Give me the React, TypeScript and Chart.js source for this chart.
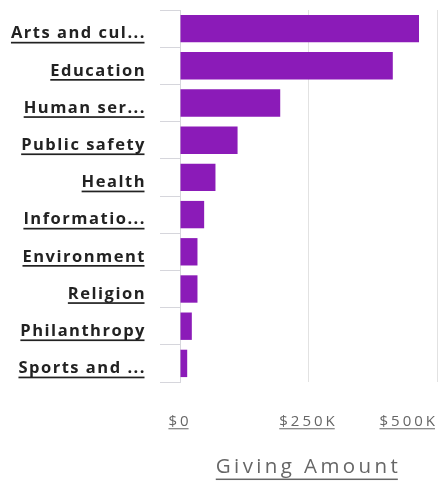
import { useEffect, useRef } from 'react';
import { Chart, BarController, BarElement, CategoryScale, LinearScale } from 'chart.js';

// ---- data ----
const categories = [
  'Arts and culture',
  'Education',
  'Human services',
  'Public safety',
  'Health',
  'Information and communications',
  'Environment',
  'Religion',
  'Philanthropy',
  'Sports and recreation',
];
const categoryLabels = [
  'Arts and cul...',
  'Education',
  'Human ser...',
  'Public safety',
  'Health',
  'Informatio...',
  'Environment',
  'Religion',
  'Philanthropy',
  'Sports and ...',
];
const givingAmounts = [465000, 414000, 195000, 112000, 69000, 47000, 34000, 34000, 23000, 14000];
const xTickValues = [0, 250000, 500000];
const xTickLabels = ['$0', '$250K', '$500K'];
const axisTitle = 'Giving Amount';

// ---- styles ----
const FONT = "'Open Sans', sans-serif";
const Y_SPACING = 1.5;
const X_SPACING = 3;
const TITLE_SPACING = 3.4;
const TITLE_SIZE = 20.5;
const TITLE_PAD_BOTTOM = 5;

function drawUnderlines(scale: any, chartArea: any, spacing: number, gap: number, thickness: number) {
  const ctx = scale.ctx as CanvasRenderingContext2D;
  const items = scale.getLabelItems(chartArea);
  for (const item of items) {
    const o = item.options;
    const label = Array.isArray(item.label) ? item.label.join(' ') : String(item.label ?? '');
    if (!label) continue;
    ctx.save();
    ctx.translate(o.translation[0], o.translation[1]);
    ctx.font = item.font.string;
    (ctx as any).letterSpacing = spacing + 'px';
    ctx.textAlign = o.textAlign;
    ctx.textBaseline = o.textBaseline;
    const m = ctx.measureText(label);
    const h = ctx.measureText('H');
    const baseY = item.textOffset + h.actualBoundingBoxDescent;
    let x0 = 0;
    if (o.textAlign === 'right' || o.textAlign === 'end') x0 = -m.width;
    else if (o.textAlign === 'center') x0 = -m.width / 2;
    ctx.fillStyle = o.color;
    ctx.fillRect(x0, baseY + gap, m.width - spacing, thickness);
    ctx.restore();
  }
}

class UnderlinedCategoryScale extends CategoryScale {
  static id = 'underlinedCategory';
  drawLabels(chartArea: any) {
    const ctx = (this as any).ctx as CanvasRenderingContext2D;
    ctx.save();
    (ctx as any).letterSpacing = Y_SPACING + 'px';
    super.drawLabels(chartArea);
    ctx.restore();
    drawUnderlines(this, chartArea, Y_SPACING, 3.5, 1.7);
  }
}

class UnderlinedLinearScale extends LinearScale {
  static id = 'underlinedLinear';
  getLabelItems(chartArea = (this as any).chart.chartArea) {
    const items = (super.getLabelItems as any)(chartArea);
    const last = items[items.length - 1];
    if (last) {
      last.options.textAlign = 'right';
      last.options.translation[0] = (this as any).right + 1;
    }
    return items;
  }
  drawLabels(chartArea: any) {
    const ctx = (this as any).ctx as CanvasRenderingContext2D;
    ctx.save();
    (ctx as any).letterSpacing = X_SPACING + 'px';
    super.drawLabels(chartArea);
    ctx.restore();
    drawUnderlines(this, chartArea, X_SPACING, 2, 1);
  }
  drawTitle() {
    const self = this as any;
    const ctx = self.ctx as CanvasRenderingContext2D;
    const t = self.options.title;
    if (!t.display) return;
    ctx.save();
    (ctx as any).letterSpacing = TITLE_SPACING + 'px';
    super.drawTitle();
    ctx.restore();
    // underline
    const lineHeight = TITLE_SIZE * 1.2;
    const cx = (self.left + self.right) / 2;
    const cy = self.bottom - lineHeight / 2 - TITLE_PAD_BOTTOM;
    ctx.save();
    ctx.font = `${TITLE_SIZE}px ${FONT}`;
    (ctx as any).letterSpacing = TITLE_SPACING + 'px';
    ctx.textBaseline = 'middle';
    const m = ctx.measureText(t.text);
    const hm = ctx.measureText('H');
    ctx.fillStyle = t.color;
    ctx.fillRect(cx - m.width / 2, cy + hm.actualBoundingBoxDescent + 6, m.width - TITLE_SPACING, 1.5);
    ctx.restore();
  }
}

Chart.register(BarController, BarElement, CategoryScale, LinearScale, UnderlinedCategoryScale, UnderlinedLinearScale);

export default function App() {
  const canvasRef = useRef<HTMLCanvasElement | null>(null);

  useEffect(() => {
    document.body.style.margin = '0';
    const canvas = canvasRef.current;
    if (!canvas) return;
    const chart = new Chart(canvas, {
      type: 'bar',
      data: {
        labels: categoryLabels,
        datasets: [
          {
            label: axisTitle,
            data: givingAmounts,
            backgroundColor: '#8b1bb8',
            borderWidth: 0,
            barPercentage: 0.92,
            categoryPercentage: 0.8,
          },
        ],
      },
      options: {
        indexAxis: 'y',
        animation: false,
        responsive: true,
        maintainAspectRatio: false,
        layout: { padding: { top: 10, right: 2, left: 0, bottom: 0 } },
        plugins: {
          legend: { display: false },
          tooltip: { enabled: false },
        },
        scales: {
          y: {
            type: 'underlinedCategory' as any,
            offset: true,
            grid: {
              display: true,
              offset: true,
              drawOnChartArea: false,
              drawTicks: true,
              tickLength: 20,
              color: '#d6d6dc',
            },
            border: { display: true, color: '#d6d6dc' },
            ticks: {
              autoSkip: false,
              padding: 14,
              labelOffset: 5,
              color: '#222222',
              font: { family: FONT, size: 16.5, weight: 'bold' },
            },
            afterFit: (s: any) => {
              s.width = 180;
              s.paddingTop = 0;
              s.paddingBottom = 0;
            },
          },
          x: {
            type: 'underlinedLinear' as any,
            min: xTickValues[0],
            max: xTickValues[xTickValues.length - 1],
            afterBuildTicks: (s: any) => {
              s.ticks = xTickValues.map((v) => ({ value: v }));
            },
            grid: { color: '#e2e2e2', drawTicks: false },
            border: { display: false },
            ticks: {
              padding: 31,
              color: '#666666',
              font: { family: FONT, size: 15 },
              callback: (_v: any, i: number) => xTickLabels[i],
            },
            title: {
              display: true,
              text: axisTitle,
              color: '#666666',
              font: { family: FONT, size: TITLE_SIZE },
              padding: { top: 0, bottom: TITLE_PAD_BOTTOM },
            },
            afterFit: (s: any) => {
              s.height = 102;
              s.paddingLeft = 0;
              s.paddingRight = 0;
            },
          },
        },
      },
    });
    return () => chart.destroy();
  }, []);

  return (
    <div style={{ position: 'relative', width: 439, height: 484 }}>
      <canvas ref={canvasRef} />
    </div>
  );
}
